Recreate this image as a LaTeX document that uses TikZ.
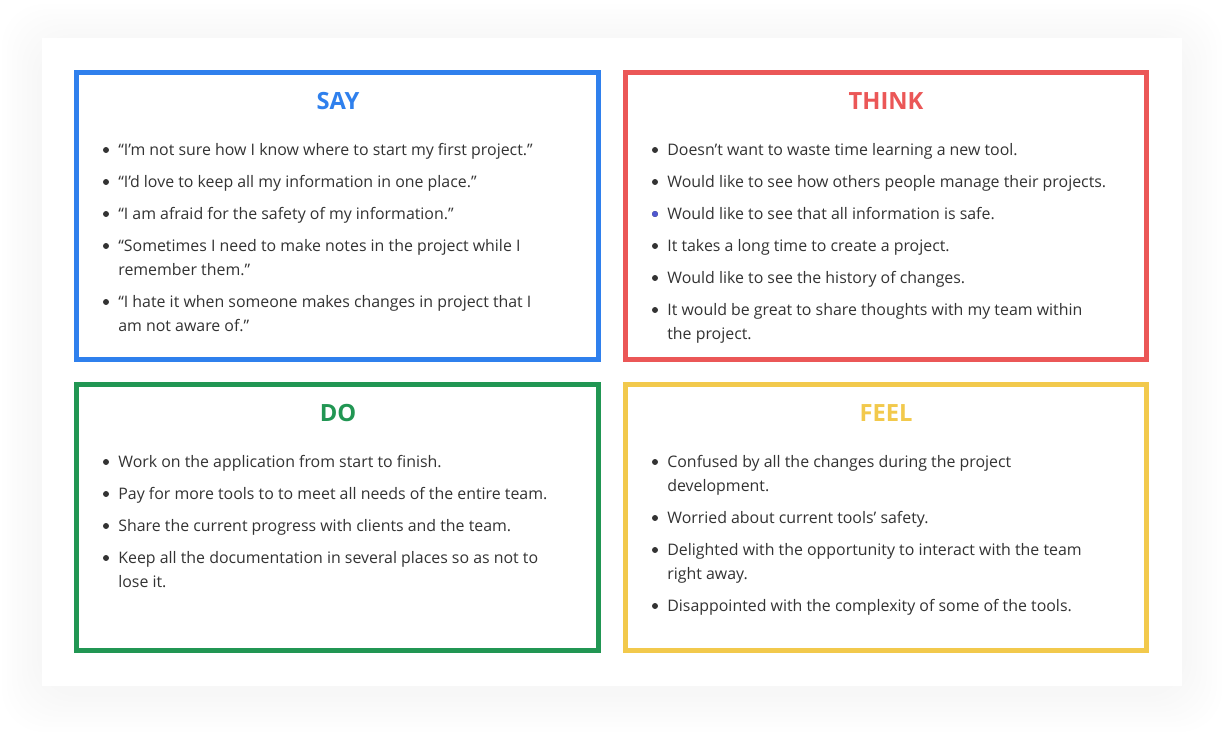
\documentclass[tikz,border=0pt]{standalone}
\usepackage{fontspec}
\setmainfont{Open Sans}
\usetikzlibrary{positioning}
\definecolor{sayc}{HTML}{2F80ED}
\definecolor{thinkc}{HTML}{EB5757}
\definecolor{doc}{HTML}{219653}
\definecolor{feelc}{HTML}{F2C94C}
\definecolor{txt}{HTML}{333333}
\definecolor{odddot}{HTML}{5058D0}
\tikzset{
  halo/.style={fill=black, opacity=0.004, rounded corners=24pt},
  card/.style={fill=white},
  quad/.style={line width=2.85pt, minimum width=10.44cm, inner sep=0pt},
  ttl/.style={font=\fontsize{13.5pt}{15pt}\selectfont\bfseries, anchor=base, inner sep=0pt},
  item/.style={font=\fontsize{9.05pt}{13.66pt}\selectfont, text=txt, align=left,
               anchor=north west, inner sep=0pt},
  dot/.style={circle, fill=txt, inner sep=0pt, minimum size=3.4pt},
}

\begin{document}
\begin{tikzpicture}[x=0.02cm, y=-0.02cm]
\useasboundingbox (0,0) rectangle (1224,732);
% soft shadow round the card
\foreach \r in {1,...,8} {
  \fill[halo] (42-\r*5,38-\r*5+6) rectangle (1182+\r*5,686+\r*5+6);
}
\fill[card] (42,38) rectangle (1182,686);
% the four quadrants
\node[quad, draw=sayc, minimum height=5.74cm] (say) at (337.5,216) {};
\node[quad, draw=thinkc, minimum height=5.74cm] (think) at (886,216) {};
\node[quad, draw=doc, minimum height=5.32cm] (do) at (337.5,517.5) {};
\node[quad, draw=feelc, minimum height=5.32cm] (feel) at (886,517.5) {};
\node[ttl, text=sayc] (sayt) at (338,109.5) {SAY};
\node[ttl, text=thinkc] (thinkt) at (886,109.5) {THINK};
\node[ttl, text=doc] (dot) at (338,421.5) {DO};
\node[ttl, text=feelc] (feelt) at (886,421.5) {FEEL};
% say
\foreach \y/\t [count=\k] in {
  150/{“I’m not sure how I know where to start my first project.”},
  182/{“I’d love to keep all my information in one place.”},
  214/{“I am afraid for the safety of my information.”},
  246/{“Sometimes I need to make notes in the project while I\\remember them.”},
  302/{“I hate it when someone makes changes in project that I\\am not aware of.”}} {
  \node[dot] (sayb\k) at (106,\y) {};
  \node[item] (sayi\k) at (118,\y-11.3) {\strut\t};
}
% think
\foreach \y/\t [count=\k] in {
  150/{Doesn't want to waste time learning a new tool.},
  182/{Would like to see how others people manage their projects.},
  214/{Would like to see that all information is safe.},
  246/{It takes a long time to create a project.},
  278/{Would like to see the history of changes.},
  310/{It would be great to share thoughts with my team within\\the project.}} {
  \node[dot] (thinkb\k) at (655,\y) {};
  \node[item] (thinki\k) at (667,\y-11.3) {\strut\t};
}
\node[dot, fill=odddot] at (thinkb3) {};
% do
\foreach \y/\t [count=\k] in {
  462/{Work on the application from start to finish.},
  494/{Pay for more tools to to meet all needs of the entire team.},
  526/{Share the current progress with clients and the team.},
  558/{Keep all the documentation in several places so as not to\\lose it.}} {
  \node[dot] (dob\k) at (106,\y) {};
  \node[item] (doi\k) at (118,\y-11.3) {\strut\t};
}
% feel
\foreach \y/\t [count=\k] in {
  462/{Confused by all the changes during the project\\development.},
  518/{Worried about current tools' safety.},
  550/{Delighted with the opportunity to interact with the team\\right away.},
  606/{Disappointed with the complexity of some of the tools.}} {
  \node[dot] (feelb\k) at (655,\y) {};
  \node[item] (feeli\k) at (667,\y-11.3) {\strut\t};
}
\end{tikzpicture}
\end{document}
